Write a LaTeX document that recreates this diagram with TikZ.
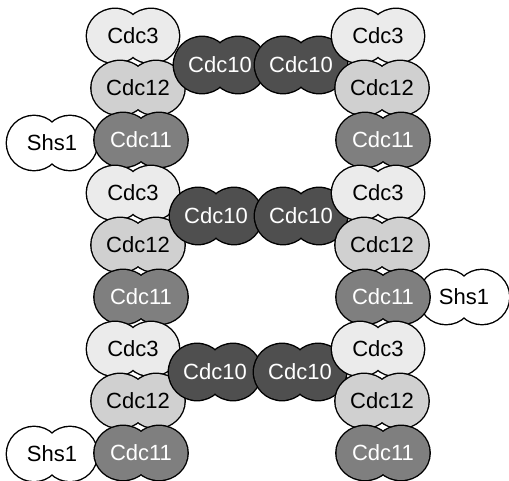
\documentclass[tikz,border=0pt]{standalone}
\usepackage{fontspec}
\setmainfont{Liberation Sans}
\definecolor{cthree}{HTML}{EBEBEB}
\definecolor{ctwelve}{HTML}{D0D0D0}
\definecolor{celeven}{HTML}{7F7F7F}
\definecolor{cten}{HTML}{4F4F4F}
\tikzset{
  lobe/.style={line width=2.8pt, draw=black},
  lbl/.style={inner sep=0pt, font=\fontsize{22}{22}\selectfont},
  sthree/.style={fill=cthree},
  stwelve/.style={fill=ctwelve},
  seleven/.style={fill=celeven},
  sten/.style={fill=cten},
  sshs/.style={fill=white},
}
% #1 node name, #2 x, #3 y, #4 fill style, #5 text colour, #6 label,
% #7 half lobe separation, #8 x radius, #9 y radius
\newcommand\subunit[9]{%
  \begin{scope}[shift={(#2,#3)}]
    \path[lobe,#4] (-#7,0) ellipse [x radius=#8, y radius=#9]
                   (#7,0) ellipse [x radius=#8, y radius=#9];
    \path[#4] (-#7,0) ellipse [x radius=#8, y radius=#9]
              (#7,0) ellipse [x radius=#8, y radius=#9];
  \end{scope}
  \node[lbl,text=#5] (#1) at (#2,#3) {#6};}
\newcommand\cdcthree[3]{\subunit{#1}{#2}{#3}{sthree}{black}{Cdc3}{18}{28}{27}}
\newcommand\cdctwelve[3]{\subunit{#1}{#2}{#3}{stwelve}{black}{Cdc12}{18}{28.5}{27}}
\newcommand\cdceleven[3]{\subunit{#1}{#2}{#3}{seleven}{white}{Cdc11}{18}{28.5}{27}}
\newcommand\cdcten[3]{\subunit{#1}{#2}{#3}{sten}{white}{Cdc10}{18}{28}{28}}
\newcommand\shsone[3]{\subunit{#1}{#2}{#3}{sshs}{black}{Shs1}{18}{27}{27}}
\begin{document}
\begin{tikzpicture}[x=1pt,y=-1pt]
  \useasboundingbox (0,0) rectangle (509,481);
  % Shs1 caps sit beneath the columns
  \shsone{sA}{52}{143}
  \shsone{sB}{464}{297}
  \shsone{sC}{52}{454}
  % left column
  \cdcthree{lA3}{133}{36}
  \cdctwelve{lA12}{138}{88}
  \cdceleven{lA11}{141}{140}
  \cdcthree{lB3}{133}{193}
  \cdctwelve{lB12}{138}{245}
  \cdceleven{lB11}{141}{297}
  \cdcthree{lC3}{133}{349}
  \cdctwelve{lC12}{138}{401}
  \cdceleven{lC11}{141}{453}
  % Cdc10 bridges
  \cdcten{bA1}{220}{65}
  \cdcten{bA2}{301}{65}
  \cdcten{bB1}{216}{216}
  \cdcten{bB2}{301}{216}
  \cdcten{bC1}{215}{372}
  \cdcten{bC2}{300}{372}
  % right column
  \cdcthree{rA3}{378}{36}
  \cdctwelve{rA12}{382}{88}
  \cdceleven{rA11}{383}{140}
  \cdcthree{rB3}{378}{193}
  \cdctwelve{rB12}{382}{245}
  \cdceleven{rB11}{383}{297}
  \cdcthree{rC3}{378}{349}
  \cdctwelve{rC12}{382}{401}
  \cdceleven{rC11}{383}{453}
\end{tikzpicture}
\end{document}
